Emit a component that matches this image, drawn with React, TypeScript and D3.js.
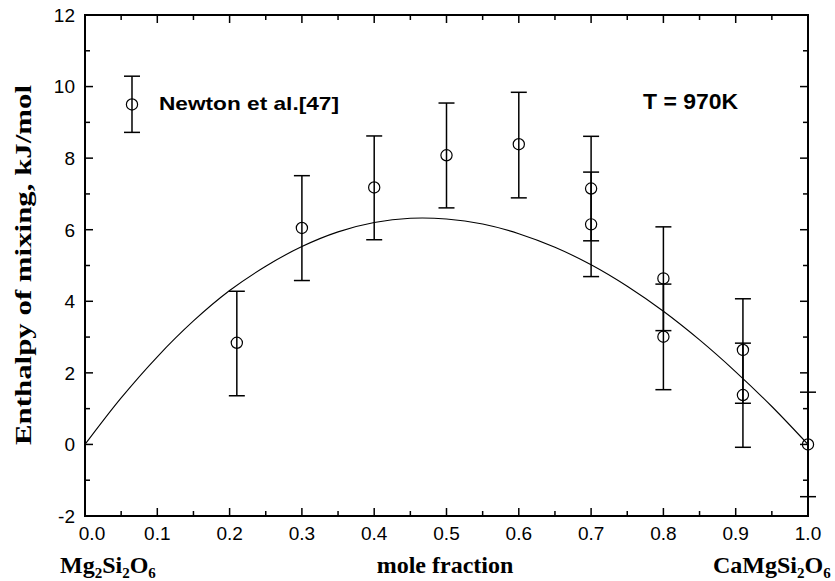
import React from "react";
import * as d3 from "d3";

const W = 835;
const H = 581;

// measured data (Newton et al. [47])
const pointX = [0.21, 0.3, 0.4, 0.5, 0.6, 0.7, 0.7, 0.8, 0.8, 0.91, 0.91, 1.0];
const pointY = [2.84, 6.05, 7.18, 8.08, 8.39, 7.15, 6.15, 4.64, 3.01, 2.64, 1.38, 0.0];
const errLow = [1.36, 4.58, 5.72, 6.61, 6.89, 5.69, 4.69, 3.18, 1.53, 1.15, -0.08, -1.46];
const errHigh = [4.28, 7.51, 8.62, 9.54, 9.84, 8.61, 7.61, 6.08, 4.48, 4.07, 2.83, 1.46];

// model curve
const curveX = [0, 0.05, 0.1, 0.15, 0.2, 0.25, 0.3, 0.35, 0.4, 0.45, 0.5, 0.55, 0.6, 0.65, 0.7, 0.75, 0.8, 0.85, 0.9, 0.95, 1.0];
const curveY = [0, 1.3, 2.45, 3.45, 4.3, 4.98, 5.53, 5.94, 6.2, 6.32, 6.3, 6.16, 5.89, 5.51, 5.02, 4.42, 3.72, 2.92, 2.03, 1.06, 0];

const xTicks = [0, 0.1, 0.2, 0.3, 0.4, 0.5, 0.6, 0.7, 0.8, 0.9, 1.0];
const xMinor = [0.05, 0.15, 0.25, 0.35, 0.45, 0.55, 0.65, 0.75, 0.85, 0.95];
const yTicks = [-2, 0, 2, 4, 6, 8, 10, 12];
const yMinor = [-1, 1, 3, 5, 7, 9, 11];

const legendX = [0.065];
const legendY = [9.5];
const legendLow = [8.72];
const legendHigh = [10.29];

const L = 85, R = 808, T = 15, B = 516;

export default function App() {
  const x = d3.scaleLinear().domain([0, 1]).range([L, R]);
  const y = d3.scaleLinear().domain([-2, 12]).range([B, T]);
  const line = d3
    .line<number>()
    .x((_, i) => x(curveX[i]))
    .y((d) => y(d))
    .curve(d3.curveCatmullRom.alpha(0.5));

  const sans = "'Liberation Sans', Arial, sans-serif";
  const serif = "'Liberation Serif', 'Times New Roman', serif";
  const cap = 8;
  const r = 5.6;

  const errBar = (cx: number, lo: number, hi: number, key: string) => (
    <g key={key} stroke="#000" strokeWidth={1.5}>
      <line x1={x(cx)} x2={x(cx)} y1={y(lo)} y2={y(hi)} />
      <line x1={x(cx) - cap} x2={x(cx) + cap} y1={y(lo)} y2={y(lo)} />
      <line x1={x(cx) - cap} x2={x(cx) + cap} y1={y(hi)} y2={y(hi)} />
    </g>
  );

  return (
    <svg
      width={W}
      height={H}
      style={{ position: "absolute", left: 0, top: 0, background: "#fff" }}
    >
      <rect width={W} height={H} fill="#fff" />
      {/* curve */}
      <path d={line(curveY) || ""} fill="none" stroke="#000" strokeWidth={1.1} />

      {/* error bars and points */}
      {pointX.map((px, i) => errBar(px, errLow[i], errHigh[i], "e" + i))}
      {pointX.map((px, i) => (
        <circle key={"c" + i} cx={x(px)} cy={y(pointY[i])} r={r} fill="none" stroke="#000" strokeWidth={1.2} />
      ))}

      {/* legend */}
      {legendX.map((lx, i) => errBar(lx, legendLow[i], legendHigh[i], "l" + i))}
      {legendX.map((lx, i) => (
        <circle key={"lc" + i} cx={x(lx)} cy={y(legendY[i])} r={r} fill="none" stroke="#000" strokeWidth={1.2} />
      ))}
      <text x={159} y={109.5} fontFamily={sans} fontWeight="bold" fontSize={19} textLength={180} lengthAdjust="spacingAndGlyphs">
        Newton et al.[47]
      </text>
      <text x={643} y={109} fontFamily={sans} fontWeight="bold" fontSize={22} textLength={95} lengthAdjust="spacingAndGlyphs">
        T = 970K
      </text>

      {/* axes frame */}
      <rect x={L} y={T} width={R - L} height={B - T} fill="none" stroke="#000" strokeWidth={2} />

      {/* x ticks */}
      {xTicks.map((t) => (
        <g key={"xt" + t} stroke="#000" strokeWidth={1.5}>
          <line x1={x(t)} x2={x(t)} y1={B} y2={B - 8} />
          <line x1={x(t)} x2={x(t)} y1={T} y2={T + 8} />
        </g>
      ))}
      {xMinor.map((t) => (
        <g key={"xm" + t} stroke="#000" strokeWidth={1.5}>
          <line x1={x(t)} x2={x(t)} y1={B} y2={B - 5} />
          <line x1={x(t)} x2={x(t)} y1={T} y2={T + 5} />
        </g>
      ))}
      {/* y ticks */}
      {yTicks.map((t) => (
        <g key={"yt" + t} stroke="#000" strokeWidth={1.5}>
          <line x1={L} x2={L + 8} y1={y(t)} y2={y(t)} />
          <line x1={R} x2={R - 8} y1={y(t)} y2={y(t)} />
        </g>
      ))}
      {yMinor.map((t) => (
        <g key={"ym" + t} stroke="#000" strokeWidth={1.5}>
          <line x1={L} x2={L + 5} y1={y(t)} y2={y(t)} />
          <line x1={R} x2={R - 5} y1={y(t)} y2={y(t)} />
        </g>
      ))}

      {/* x tick labels */}
      {xTicks.map((t, i) => (
        <text
          key={"xl" + t}
          x={x(t) + (i === 0 ? 7 : 0)}
          y={540}
          textAnchor="middle"
          fontFamily={sans}
          fontSize={19}
        >
          {d3.format(".1f")(t)}
        </text>
      ))}
      {/* y tick labels */}
      {yTicks.map((t) => (
        <text
          key={"yl" + t}
          x={75}
          y={y(t)}
          dy="0.36em"
          textAnchor="end"
          fontFamily={sans}
          fontSize={19}
        >
          {t}
        </text>
      ))}

      {/* axis titles */}
      <text
        transform={`translate(31, 265) rotate(-90)`}
        textAnchor="middle"
        fontFamily={serif}
        fontWeight="bold"
        fontSize={24}
        textLength={360}
        lengthAdjust="spacingAndGlyphs"
      >
        Enthalpy of mixing, kJ/mol
      </text>
      <text x={445} y={573} textAnchor="middle" fontFamily={serif} fontWeight="bold" fontSize={24}>
        mole fraction
      </text>
      <text x={60} y={573} fontFamily={serif} fontWeight="bold" fontSize={24}>
        Mg<tspan fontSize={15} dy={5}>2</tspan>
        <tspan dy={-5}>Si</tspan>
        <tspan fontSize={15} dy={5}>2</tspan>
        <tspan dy={-5}>O</tspan>
        <tspan fontSize={15} dy={5}>6</tspan>
      </text>
      <text x={713} y={573} fontFamily={serif} fontWeight="bold" fontSize={24}>
        CaMgSi<tspan fontSize={15} dy={5}>2</tspan>
        <tspan dy={-5}>O</tspan>
        <tspan fontSize={15} dy={5}>6</tspan>
      </text>
    </svg>
  );
}
